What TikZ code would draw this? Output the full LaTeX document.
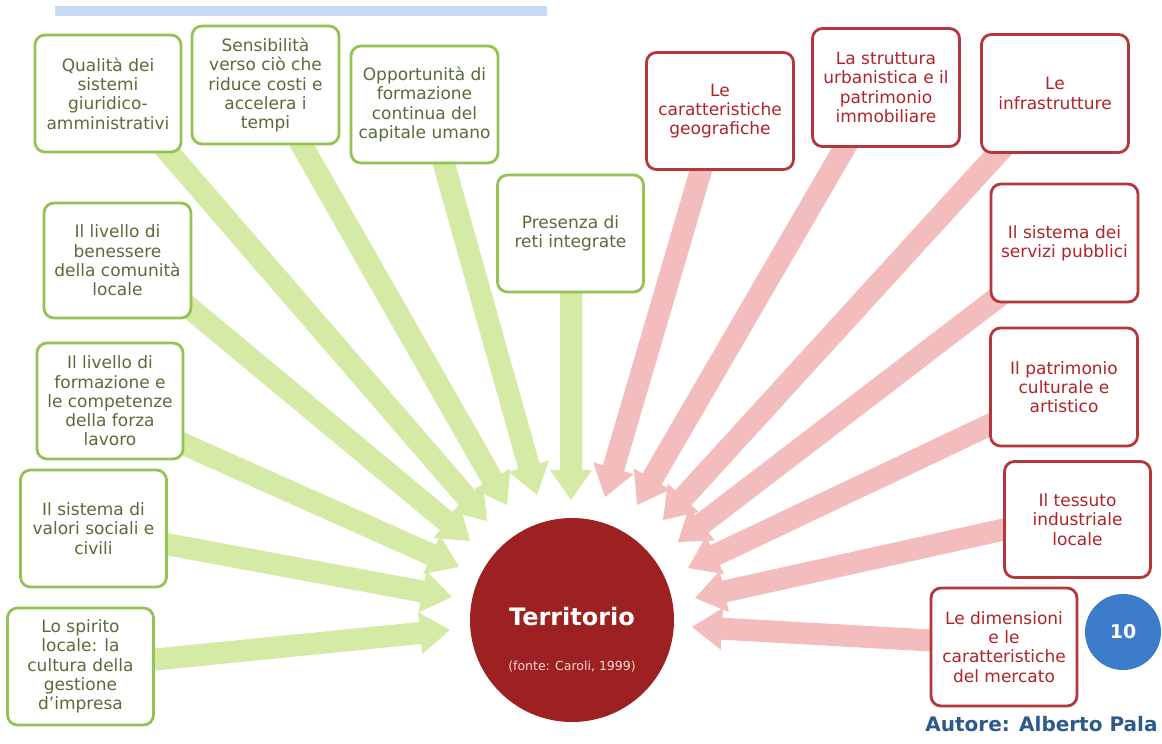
\documentclass[tikz,border=0pt]{standalone}
\usepackage{fontspec}
\setmainfont{DejaVu Sans}
\usetikzlibrary{calc}
\definecolor{gborder}{HTML}{92C353}
\definecolor{gtext}{HTML}{5A6B3A}
\definecolor{garrowc}{HTML}{D4EAA5}
\definecolor{rborder}{HTML}{B3373B}
\definecolor{rtext}{HTML}{B0232A}
\definecolor{rarrowc}{HTML}{F3BDBD}
\definecolor{terr}{HTML}{9E2121}
\definecolor{pgblue}{HTML}{3D7CC9}
\definecolor{autblue}{HTML}{2D5A8C}
\definecolor{topbar}{HTML}{C6DCF5}
\pgfdeclarelayer{back}
\pgfdeclarelayer{bg}
\pgfsetlayers{back,bg,main}
\newcommand\blockarrow[3]{%
  \coordinate (ba-h) at ($(#2)!30pt!(#1)$);
  \fill[#3] ($(#1)!11pt!90:(#2)$) -- ($(ba-h)!11pt!90:(#2)$) -- ($(ba-h)!21pt!90:(#2)$) -- (#2)
    -- ($(ba-h)!21pt!-90:(#2)$) -- ($(ba-h)!11pt!-90:(#2)$) -- ($(#1)!11pt!-90:(#2)$) -- cycle;}
\tikzset{
  boxbase/.style={rounded corners=10pt, line width=2.8pt, fill=white, align=center,
    inner sep=0pt, minimum width=146pt, minimum height=116pt,
    font=\fontsize{17}{19.3}\selectfont},
  gbox/.style={boxbase, draw=gborder, text=gtext},
  rbox/.style={boxbase, draw=rborder, text=rtext},
}
\begin{document}
\begin{tikzpicture}[x=1pt,y=-1pt]
\begin{pgfonlayer}{back}
\fill[white] (0,0) rectangle (1162,744);
\end{pgfonlayer}
\useasboundingbox (0,0) rectangle (1162,744);
\fill[topbar] (55,6) rectangle (547,16);
% green boxes
\node[gbox, minimum height=117pt] (g1) at (108,93.5) {Qualità dei\\sistemi\\giuridico-\\amministrativi};
\node[gbox, minimum width=147pt, minimum height=118pt] (g2) at (265.5,85) {Sensibilità\\verso ciò che\\riduce costi e\\accelera i\\tempi};
\node[gbox, minimum width=147pt, minimum height=117pt] (g3) at (424.5,104.5) {Opportunità di\\formazione\\continua del\\capitale umano};
\node[gbox, minimum height=117pt] (g4) at (570.5,233.5) {Presenza di\\reti integrate};
\node[gbox, minimum width=147pt, minimum height=115pt] (g5) at (117.5,260.5) {Il livello di\\benessere\\della comunità\\locale};
\node[gbox, minimum width=146pt] (g6) at (110,401) {Il livello di\\formazione e\\le competenze\\della forza\\lavoro};
\node[gbox, minimum height=117pt] (g7) at (93.5,528.5) {Il sistema di\\valori sociali e\\civili};
\node[gbox, minimum height=117pt] (g8) at (80.5,666.5) {Lo spirito\\locale: la\\cultura della\\gestione\\d’impresa};
% red boxes
\node[rbox, minimum width=147pt, minimum height=117pt] (r1) at (720,111) {Le\\caratteristiche\\geografiche};
\node[rbox, minimum width=147pt, minimum height=118pt] (r2) at (886,87.5) {La struttura\\urbanistica e il\\patrimonio\\immobiliare};
\node[rbox, minimum width=147pt, minimum height=118pt] (r3) at (1055,93.5) {Le\\infrastrutture};
\node[rbox, minimum width=147pt, minimum height=118pt] (r4) at (1064.5,243) {Il sistema dei\\servizi pubblici};
\node[rbox, minimum width=147pt, minimum height=118pt] (r5) at (1064,387) {Il patrimonio\\culturale e\\artistico};
\node[rbox] (r6) at (1077.5,519.5) {Il tessuto\\industriale\\locale};
\node[rbox, minimum height=118pt] (r7) at (1004,647) {Le dimensioni\\e le\\caratteristiche\\del mercato};
% centre
\node[circle, fill=terr, minimum size=204pt, inner sep=0pt] (terr) at (572,620) {};
\node[text=white, font=\fontsize{24}{28}\selectfont\bfseries] (terrlab) at (572,617) {Territorio};
\node[text=rarrowc!60!white, font=\fontsize{12.5}{14}\selectfont] (fonte) at (572,667) {(fonte: Caroli, 1999)};
% page number and author
\node[circle, fill=pgblue, minimum size=76pt, inner sep=0pt, text=white, font=\fontsize{19}{21}\selectfont\bfseries] (pg) at (1123,632) {10};
\node[anchor=base east, text=autblue, font=\fontsize{20}{23}\selectfont\bfseries] (aut) at (1161,731) {Autore: Alberto Pala};
% arrows
\coordinate (g1s) at (158,140); \coordinate (g1t) at (487,521);
\coordinate (g2s) at (296,135); \coordinate (g2t) at (507,505);
\coordinate (g3s) at (440,150); \coordinate (g3t) at (537,495);
\coordinate (g4s) at (571,280); \coordinate (g4t) at (571,500);
\coordinate (g5s) at (180,300); \coordinate (g5t) at (470,541);
\coordinate (g6s) at (170,438); \coordinate (g6t) at (459,567);
\coordinate (g7s) at (155,542); \coordinate (g7t) at (452,597);
\coordinate (g8s) at (140,661); \coordinate (g8t) at (450,630);
\coordinate (r1s) at (704,160); \coordinate (r1t) at (605,497);
\coordinate (r2s) at (852,135); \coordinate (r2t) at (637,505);
\coordinate (r3s) at (1008,142); \coordinate (r3t) at (663,520);
\coordinate (r4s) at (1002,294); \coordinate (r4t) at (678,542);
\coordinate (r5s) at (1002,419); \coordinate (r5t) at (688,568);
\coordinate (r6s) at (1015,527); \coordinate (r6t) at (695,598);
\coordinate (r7s) at (940,641); \coordinate (r7t) at (692,627);
\begin{pgfonlayer}{bg}
\blockarrow{g1s}{g1t}{garrowc}
\blockarrow{g2s}{g2t}{garrowc}
\blockarrow{g3s}{g3t}{garrowc}
\blockarrow{g4s}{g4t}{garrowc}
\blockarrow{g5s}{g5t}{garrowc}
\blockarrow{g6s}{g6t}{garrowc}
\blockarrow{g7s}{g7t}{garrowc}
\blockarrow{g8s}{g8t}{garrowc}
\blockarrow{r1s}{r1t}{rarrowc}
\blockarrow{r2s}{r2t}{rarrowc}
\blockarrow{r3s}{r3t}{rarrowc}
\blockarrow{r4s}{r4t}{rarrowc}
\blockarrow{r5s}{r5t}{rarrowc}
\blockarrow{r6s}{r6t}{rarrowc}
\blockarrow{r7s}{r7t}{rarrowc}
\end{pgfonlayer}
\end{tikzpicture}
\end{document}
